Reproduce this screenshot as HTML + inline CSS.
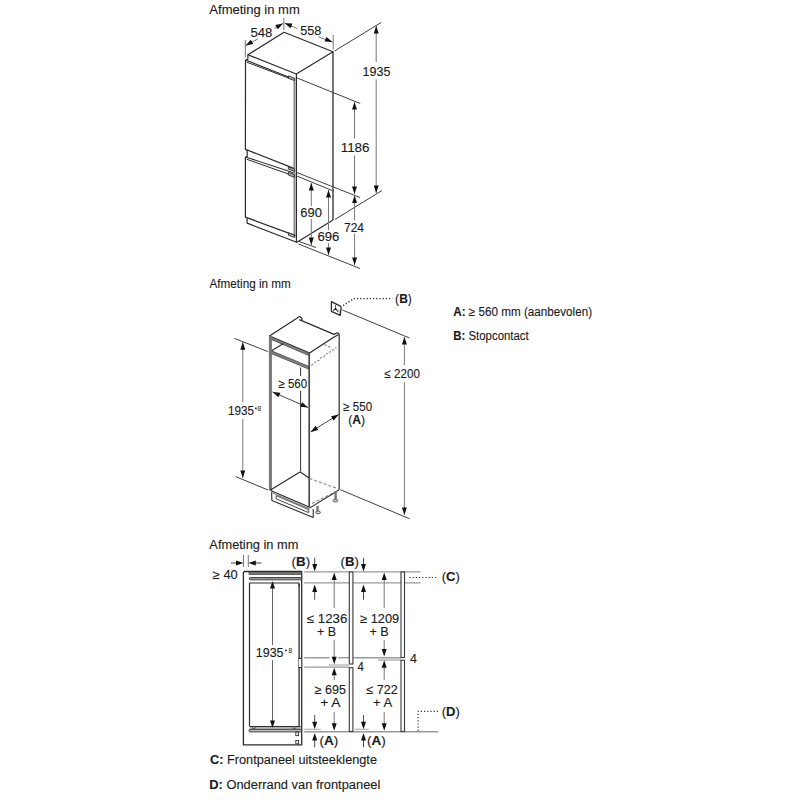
<!DOCTYPE html>
<html><head><meta charset="utf-8"><style>
html,body{margin:0;padding:0;background:#fff;}
svg{display:block;font-family:"Liberation Sans",sans-serif;}
</style></head><body>
<svg width="800" height="800" viewBox="0 0 800 800">
<rect width="800" height="800" fill="#fff"/>
<text id="t0" x="209.37" y="13.5" font-size="13" font-weight="normal" text-anchor="start" fill="#1a1a1a" stroke="#1a1a1a" stroke-width="0.12" textLength="90.42" lengthAdjust="spacingAndGlyphs">Afmeting in mm</text>
<polygon points="247.9,54.8 284,32.3 333,51.7 296.3,74" stroke="#2b2b2b" stroke-width="1.2" fill="none" stroke-linejoin="round" />
<line x1="333" y1="51.7" x2="333" y2="220" stroke="#2b2b2b" stroke-width="1.3" />
<line x1="333" y1="220" x2="296.5" y2="242.5" stroke="#2b2b2b" stroke-width="1.2" />
<line x1="296.4" y1="74" x2="296.4" y2="242.5" stroke="#2b2b2b" stroke-width="1.2" />
<line x1="294.4" y1="79" x2="294.4" y2="236" stroke="#8a8a8a" stroke-width="1.9" />
<polyline points="247.9,54.8 247.9,59.2 245.5,60.3 245.4,149.3 293.8,168.4" stroke="#2b2b2b" stroke-width="1.2" fill="none" stroke-linejoin="round" />
<line x1="245.6" y1="60.1" x2="294.2" y2="79.2" stroke="#2b2b2b" stroke-width="1.1" />
<line x1="246.6" y1="62.1" x2="289" y2="78.2" stroke="#2b2b2b" stroke-width="1.0" />
<polygon points="288.4,75.9 288.4,78.3 294.6,80.6 294.6,78.2" stroke="#2b2b2b" stroke-width="0.9" fill="#aaa" stroke-linejoin="round" />
<polyline points="245.4,149.3 247.2,150.5 247.2,156.3 245.4,157.2 245.4,217.1 295.5,235.6" stroke="#2b2b2b" stroke-width="1.2" fill="none" stroke-linejoin="round" />
<line x1="245.6" y1="157" x2="293.5" y2="172.8" stroke="#2b2b2b" stroke-width="1.1" />
<line x1="246.5" y1="159.2" x2="294" y2="176" stroke="#2b2b2b" stroke-width="1.0" />
<polygon points="288.3,166.8 288.3,169 294.6,171.3 294.6,169.1" stroke="#2b2b2b" stroke-width="0.9" fill="#aaa" stroke-linejoin="round" />
<polygon points="288.3,172.3 288.3,175 294.6,177.4 294.6,174.7" stroke="#2b2b2b" stroke-width="0.9" fill="#aaa" stroke-linejoin="round" />
<polyline points="247.1,218.3 247.1,223.1 296.6,242.3" stroke="#2b2b2b" stroke-width="1.2" fill="none" stroke-linejoin="round" />
<polygon points="288.5,232.8 288.5,235.3 294.6,237.6 294.6,235.1" stroke="#2b2b2b" stroke-width="0.9" fill="#aaa" stroke-linejoin="round" />
<line x1="245.3" y1="40" x2="245.3" y2="57.5" stroke="#787878" stroke-width="1.0" />
<line x1="283.8" y1="18" x2="283.8" y2="30" stroke="#787878" stroke-width="1.0" />
<line x1="245.6" y1="45.6" x2="258" y2="38.8" stroke="#787878" stroke-width="1.0" />
<line x1="274.4" y1="28.4" x2="283" y2="23.4" stroke="#787878" stroke-width="1.0" />
<polygon points="245.60,45.60 250.83,39.67 253.34,44.00" fill="#111"/>
<polygon points="283.00,23.40 277.77,29.33 275.26,25.00" fill="#111"/>
<text id="t1" x="250.5" y="36.5" font-size="12.5" font-weight="normal" text-anchor="start" fill="#1a1a1a" stroke="#1a1a1a" stroke-width="0.12" textLength="21.9" lengthAdjust="spacingAndGlyphs">548</text>
<line x1="333.2" y1="35" x2="333.2" y2="49.5" stroke="#787878" stroke-width="1.0" />
<line x1="284.6" y1="23.2" x2="297.5" y2="28.6" stroke="#787878" stroke-width="1.0" />
<line x1="318.5" y1="36.8" x2="332.5" y2="42" stroke="#787878" stroke-width="1.0" />
<polygon points="284.60,23.20 292.50,23.60 290.68,28.25" fill="#111"/>
<polygon points="332.50,42.00 324.60,41.60 326.42,36.95" fill="#111"/>
<text id="t2" x="300.25" y="34.5" font-size="12.5" font-weight="normal" text-anchor="start" fill="#1a1a1a" stroke="#1a1a1a" stroke-width="0.12" textLength="21.14" lengthAdjust="spacingAndGlyphs">558</text>
<line x1="334.5" y1="51" x2="381.2" y2="22.5" stroke="#404040" stroke-width="1.0" />
<line x1="335" y1="219.4" x2="382" y2="190.5" stroke="#404040" stroke-width="1.0" />
<line x1="376.2" y1="26" x2="376.2" y2="62" stroke="#787878" stroke-width="1.0" />
<line x1="376.2" y1="79.5" x2="376.2" y2="193" stroke="#787878" stroke-width="1.0" />
<polygon points="376.20,26.00 378.70,33.50 373.70,33.50" fill="#111"/>
<polygon points="376.20,193.00 373.70,185.50 378.70,185.50" fill="#111"/>
<text id="t3" x="362.5" y="75.8" font-size="13" font-weight="normal" text-anchor="start" fill="#1a1a1a" stroke="#1a1a1a" stroke-width="0.12" textLength="27.89" lengthAdjust="spacingAndGlyphs">1935</text>
<line x1="297.2" y1="78" x2="360.2" y2="103.5" stroke="#404040" stroke-width="1.0" />
<line x1="297" y1="172.6" x2="360" y2="197.5" stroke="#404040" stroke-width="1.0" />
<line x1="354.5" y1="102" x2="354.5" y2="138.5" stroke="#787878" stroke-width="1.0" />
<line x1="354.5" y1="155.5" x2="354.5" y2="194" stroke="#787878" stroke-width="1.0" />
<polygon points="354.50,102.00 357.00,109.50 352.00,109.50" fill="#111"/>
<polygon points="354.50,194.00 352.00,186.50 357.00,186.50" fill="#111"/>
<text id="t4" x="340.7" y="151.5" font-size="13" font-weight="normal" text-anchor="start" fill="#1a1a1a" stroke="#1a1a1a" stroke-width="0.12" textLength="28.84" lengthAdjust="spacingAndGlyphs">1186</text>
<line x1="297" y1="176.1" x2="333.8" y2="191.2" stroke="#404040" stroke-width="1.0" />
<line x1="299" y1="241.5" x2="316" y2="247.5" stroke="#404040" stroke-width="1.0" />
<line x1="311.3" y1="183" x2="311.3" y2="206" stroke="#787878" stroke-width="1.0" />
<line x1="311.3" y1="219" x2="311.3" y2="245" stroke="#787878" stroke-width="1.0" />
<polygon points="311.30,183.00 313.80,190.50 308.80,190.50" fill="#111"/>
<polygon points="311.30,245.00 308.80,237.50 313.80,237.50" fill="#111"/>
<text id="t5" x="300.25" y="217" font-size="12.5" font-weight="normal" text-anchor="start" fill="#1a1a1a" stroke="#1a1a1a" stroke-width="0.12" textLength="21.63" lengthAdjust="spacingAndGlyphs">690</text>
<line x1="298.5" y1="244" x2="360" y2="268.5" stroke="#404040" stroke-width="1.0" />
<line x1="328.5" y1="190" x2="328.5" y2="230" stroke="#787878" stroke-width="1.0" />
<line x1="328.5" y1="243" x2="328.5" y2="255" stroke="#787878" stroke-width="1.0" />
<polygon points="328.50,190.00 331.00,197.50 326.00,197.50" fill="#111"/>
<polygon points="328.50,255.00 326.00,247.50 331.00,247.50" fill="#111"/>
<text id="t6" x="317.5" y="241.2" font-size="12.5" font-weight="normal" text-anchor="start" fill="#1a1a1a" stroke="#1a1a1a" stroke-width="0.12" textLength="21.9" lengthAdjust="spacingAndGlyphs">696</text>
<line x1="354.6" y1="195.6" x2="354.6" y2="220.5" stroke="#787878" stroke-width="1.0" />
<line x1="354.6" y1="233.5" x2="354.6" y2="265" stroke="#787878" stroke-width="1.0" />
<polygon points="354.60,195.60 357.10,203.10 352.10,203.10" fill="#111"/>
<polygon points="354.60,265.00 352.10,257.50 357.10,257.50" fill="#111"/>
<text id="t7" x="343.95" y="231.5" font-size="12.5" font-weight="normal" text-anchor="start" fill="#1a1a1a" stroke="#1a1a1a" stroke-width="0.12" textLength="20.1" lengthAdjust="spacingAndGlyphs">724</text>
<text id="t8" x="209.5" y="288" font-size="13" font-weight="normal" text-anchor="start" fill="#1a1a1a" stroke="#1a1a1a" stroke-width="0.12" textLength="81.28" lengthAdjust="spacingAndGlyphs">Afmeting in mm</text>
<polygon points="331.4,301.6 340.3,306.2 341.2,307.3 340.2,315.4 331.4,311.3" stroke="#2b2b2b" stroke-width="1.3" fill="none" stroke-linejoin="round" />
<line x1="335.6" y1="305" x2="335.5" y2="308.4" stroke="#555" stroke-width="1.0" />
<polyline points="333.4,310.6 335.5,308.3 338,311.8" stroke="#222" stroke-width="1.1" fill="none" stroke-linejoin="round" />
<line x1="339" y1="309.5" x2="339" y2="313.5" stroke="#999" stroke-width="0.9" />
<polyline points="343.1,305.6 353.8,298.6 392.5,298.6" stroke="#333" stroke-width="1.3" fill="none" stroke-linejoin="round" stroke-dasharray="1.3,1.9"/>
<text id="t9" x="395.12" y="303" font-size="12.5" font-weight="normal" text-anchor="start" fill="#1a1a1a" stroke="#1a1a1a" stroke-width="0.12" textLength="16.68" lengthAdjust="spacingAndGlyphs">(<tspan font-weight='bold'>B</tspan>)</text>
<text id="t10" x="453.25" y="315.5" font-size="12.5" font-weight="normal" text-anchor="start" fill="#1a1a1a" stroke="#1a1a1a" stroke-width="0.12" textLength="138.77" lengthAdjust="spacingAndGlyphs"><tspan font-weight='bold'>A:</tspan> ≥ 560 mm (aanbevolen)</text>
<text id="t11" x="453.25" y="340" font-size="12.5" font-weight="normal" text-anchor="start" fill="#1a1a1a" stroke="#1a1a1a" stroke-width="0.12" textLength="75.52" lengthAdjust="spacingAndGlyphs"><tspan font-weight='bold'>B:</tspan> Stopcontact</text>
<line x1="342.5" y1="310" x2="409.4" y2="338" stroke="#404040" stroke-width="1.0" />
<line x1="340.3" y1="489.7" x2="409.7" y2="518.8" stroke="#404040" stroke-width="1.0" />
<line x1="404.4" y1="337" x2="404.4" y2="365" stroke="#787878" stroke-width="1.0" />
<line x1="404.4" y1="382" x2="404.4" y2="515" stroke="#787878" stroke-width="1.0" />
<polygon points="404.40,336.90 406.90,344.40 401.90,344.40" fill="#111"/>
<polygon points="404.40,515.00 401.90,507.50 406.90,507.50" fill="#111"/>
<text id="t12" x="384.5" y="378" font-size="12.5" font-weight="normal" text-anchor="start" fill="#1a1a1a" stroke="#1a1a1a" stroke-width="0.12" textLength="35.38" lengthAdjust="spacingAndGlyphs">≤ 2200</text>
<polyline points="269.5,336 299.6,316.5 302,318.3 301.8,320.3" stroke="#2b2b2b" stroke-width="1.2" fill="none" stroke-linejoin="round" />
<polyline points="299.3,319.6 334,334.4 337.4,332.7 339.5,334.2" stroke="#2b2b2b" stroke-width="1.2" fill="none" stroke-linejoin="round" />
<polyline points="269.5,336 309.5,353 332.5,338 338.7,334.5" stroke="#2b2b2b" stroke-width="1.3" fill="none" stroke-linejoin="round" />
<polygon points="269.5,336 309.5,353 309.5,355.8 270.5,339.2" stroke="#3a3a3a" stroke-width="0.7" fill="#808080" stroke-linejoin="round" />
<polygon points="271,350.6 309,366.4 309,369.2 271,353.4" stroke="#3a3a3a" stroke-width="0.7" fill="#808080" stroke-linejoin="round" />
<line x1="271.2" y1="351" x2="283.5" y2="343.5" stroke="#2b2b2b" stroke-width="1.1" />
<line x1="270.4" y1="336" x2="270.4" y2="490.5" stroke="#777" stroke-width="3" />
<line x1="309.2" y1="353" x2="309.2" y2="507.5" stroke="#4a4a4a" stroke-width="1.7" />
<line x1="339.2" y1="334.5" x2="339.2" y2="489.5" stroke="#3a3a3a" stroke-width="1.3" />
<line x1="300.6" y1="367.5" x2="300.6" y2="376" stroke="#333" stroke-width="1.0" />
<line x1="300.6" y1="391" x2="300.6" y2="471.5" stroke="#333" stroke-width="1.0" />
<polyline points="311.2,365.2 314.11,363.99 315.82,361.07 319.13,360.43 320.84,357.51 324.15,356.87 325.86,353.95 329.17,353.31 330.88,350.39 334.19,349.75 336.3,347.4" stroke="#8a8a8a" stroke-width="1.15" fill="none" stroke-linejoin="round" stroke-dasharray="2.4,1.6"/>
<line x1="324.4" y1="344.6" x2="331.5" y2="348" stroke="#8a8a8a" stroke-width="1.15" stroke-dasharray="2.4,1.6"/>
<polyline points="270.5,490 300,472 301,472.5 309,478" stroke="#2b2b2b" stroke-width="1.2" fill="none" stroke-linejoin="round" />
<line x1="309.5" y1="478.5" x2="339" y2="489" stroke="#888" stroke-width="1.1" stroke-dasharray="3,2"/>
<line x1="312" y1="503.5" x2="337" y2="491" stroke="#888" stroke-width="1.1" stroke-dasharray="3,2"/>
<line x1="309.6" y1="508" x2="339.3" y2="489.8" stroke="#3a3a3a" stroke-width="1.1" />
<line x1="270.5" y1="490.5" x2="309.2" y2="507" stroke="#2b2b2b" stroke-width="1.3" />
<line x1="271" y1="492.3" x2="309.2" y2="508.6" stroke="#888" stroke-width="1.0" />
<polyline points="271.6,492.5 271.9,500.5 313.2,517.5 313.2,509" stroke="#2b2b2b" stroke-width="1.1" fill="none" stroke-linejoin="round" />
<polyline points="276.2,495.5 276.2,498.8 308.5,512.6" stroke="#2b2b2b" stroke-width="0.9" fill="none" stroke-linejoin="round" />
<polyline points="276.5,495.5 308.5,509.3 308.5,512.6" stroke="#777" stroke-width="1.6" fill="none" stroke-linejoin="round" />
<line x1="317.5" y1="506" x2="317.5" y2="511.5" stroke="#777" stroke-width="2.4" />
<ellipse cx="318" cy="512.4" rx="2.5" ry="1.4" fill="#ccc" stroke="#555" stroke-width="0.9"/>
<line x1="335.6" y1="491" x2="335.6" y2="499.5" stroke="#777" stroke-width="2.4" />
<ellipse cx="335.4" cy="500.6" rx="2.5" ry="1.4" fill="#ccc" stroke="#555" stroke-width="0.9"/>
<line x1="272.5" y1="391.9" x2="308" y2="407.5" stroke="#333" stroke-width="0.9" />
<polygon points="272.50,391.90 280.37,392.63 278.36,397.21" fill="#111"/>
<polygon points="308.00,407.50 300.13,406.77 302.14,402.19" fill="#111"/>
<text id="t13" x="278.38" y="387.5" font-size="12.5" font-weight="normal" text-anchor="start" fill="#1a1a1a" stroke="#1a1a1a" stroke-width="0.12" textLength="28.75" lengthAdjust="spacingAndGlyphs">≥ 560</text>
<line x1="310.6" y1="431.9" x2="338.75" y2="414.4" stroke="#333" stroke-width="0.9" />
<polygon points="310.60,431.90 315.66,425.82 318.29,430.07" fill="#111"/>
<polygon points="338.75,414.40 333.69,420.48 331.06,416.23" fill="#111"/>
<text id="t14" x="343.25" y="411" font-size="12.5" font-weight="normal" text-anchor="start" fill="#1a1a1a" stroke="#1a1a1a" stroke-width="0.12" textLength="28.87" lengthAdjust="spacingAndGlyphs">≥ 550</text>
<text id="t15" x="348.25" y="423.5" font-size="12.5" font-weight="normal" text-anchor="start" fill="#1a1a1a" stroke="#1a1a1a" stroke-width="0.12" textLength="16.84" lengthAdjust="spacingAndGlyphs">(<tspan font-weight='bold'>A</tspan>)</text>
<line x1="234.4" y1="338.4" x2="268.1" y2="351.6" stroke="#404040" stroke-width="1.0" />
<line x1="235.5" y1="476.5" x2="268" y2="490" stroke="#404040" stroke-width="1.0" />
<line x1="242.8" y1="342.2" x2="242.8" y2="402" stroke="#787878" stroke-width="1.0" />
<line x1="242.8" y1="419" x2="242.8" y2="478" stroke="#787878" stroke-width="1.0" />
<polygon points="242.80,342.20 245.30,349.70 240.30,349.70" fill="#111"/>
<polygon points="242.80,478.00 240.30,470.50 245.30,470.50" fill="#111"/>
<text id="t16" x="227.97" y="415.4" font-size="12.5" font-weight="normal" text-anchor="start" fill="#1a1a1a" stroke="#1a1a1a" stroke-width="0.12" textLength="26.01" lengthAdjust="spacingAndGlyphs">1935</text>
<text id="t17" x="257.5" y="410.7" font-size="6.6" font-weight="normal" text-anchor="start" fill="#444" stroke="#444" stroke-width="0.12">8</text>
<line x1="254.8" y1="408.4" x2="257" y2="408.4" stroke="#333" stroke-width="0.9" />
<line x1="255.9" y1="407.3" x2="255.9" y2="409.5" stroke="#333" stroke-width="0.9" />
<text id="t18" x="209.37" y="548.7" font-size="13" font-weight="normal" text-anchor="start" fill="#1a1a1a" stroke="#1a1a1a" stroke-width="0.12" textLength="89.01" lengthAdjust="spacingAndGlyphs">Afmeting in mm</text>
<polygon points="243.4,744.8 243.4,572.5 244.5,571.5 301.7,571.5 301.7,744.8" stroke="#2b2b2b" stroke-width="1.3" fill="none" stroke-linejoin="round" />
<rect x="249" y="572" width="52.5" height="2.6" fill="#7a7a7a" stroke="#333" stroke-width="0.6"/>
<rect x="249.3" y="577.5" width="52.2" height="2.3" rx="1" fill="#999" stroke="#333" stroke-width="0.9"/>
<polyline points="249.5,726.3 249.5,583 299.1,583 299.1,587" stroke="#2b2b2b" stroke-width="1.2" fill="none" stroke-linejoin="round" />
<line x1="299.1" y1="584" x2="299.1" y2="726.3" stroke="#2b2b2b" stroke-width="1.3" />
<rect x="298.6" y="658.3" width="2.6" height="9.2" fill="#fff" stroke="#666" stroke-width="0.6"/>
<line x1="298.5" y1="658.3" x2="301.3" y2="658.3" stroke="#2b2b2b" stroke-width="1.0" />
<line x1="298.5" y1="667.5" x2="301.3" y2="667.5" stroke="#2b2b2b" stroke-width="1.0" />
<line x1="249.5" y1="726.5" x2="300.6" y2="726.5" stroke="#2b2b2b" stroke-width="1.0" />
<line x1="249.5" y1="728" x2="300.6" y2="728" stroke="#999" stroke-width="1.4" />
<rect x="252.3" y="726.3" width="2.8" height="2" fill="none" stroke="#444" stroke-width="0.7"/>
<rect x="293" y="726.3" width="2.8" height="2" fill="none" stroke="#444" stroke-width="0.7"/>
<rect x="249" y="729.4" width="52.7" height="2.5" rx="1" fill="#bbb" stroke="#333" stroke-width="0.9"/>
<rect x="295.8" y="732" width="2.8" height="3.6" fill="none" stroke="#333" stroke-width="0.9"/>
<rect x="295.8" y="740.4" width="2.8" height="3.4" fill="none" stroke="#333" stroke-width="0.9"/>
<line x1="243.5" y1="555" x2="243.5" y2="567" stroke="#787878" stroke-width="1.0" />
<line x1="248.3" y1="555" x2="248.3" y2="567" stroke="#787878" stroke-width="1.0" />
<line x1="231" y1="563" x2="236.5" y2="563" stroke="#333" stroke-width="0.9" />
<line x1="255" y1="563" x2="261.5" y2="563" stroke="#333" stroke-width="0.9" />
<polygon points="243.50,563.00 236.00,565.50 236.00,560.50" fill="#111"/>
<polygon points="248.30,563.00 255.80,560.50 255.80,565.50" fill="#111"/>
<text id="t19" x="212.87" y="578.7" font-size="12.5" font-weight="normal" text-anchor="start" fill="#1a1a1a" stroke="#1a1a1a" stroke-width="0.12" textLength="24.92" lengthAdjust="spacingAndGlyphs">≥ 40</text>
<line x1="272.5" y1="588" x2="272.5" y2="645" stroke="#555" stroke-width="0.9" />
<line x1="272.5" y1="660" x2="272.5" y2="721" stroke="#555" stroke-width="0.9" />
<polygon points="272.50,581.00 275.00,588.50 270.00,588.50" fill="#111"/>
<polygon points="272.50,728.00 270.00,720.50 275.00,720.50" fill="#111"/>
<text id="t20" x="255.8" y="656.8" font-size="12.5" font-weight="normal" text-anchor="start" fill="#1a1a1a" stroke="#1a1a1a" stroke-width="0.12" textLength="27.77" lengthAdjust="spacingAndGlyphs">1935</text>
<text id="t21" x="288.5" y="652.7" font-size="6.6" font-weight="normal" text-anchor="start" fill="#444" stroke="#444" stroke-width="0.12">8</text>
<line x1="284.9" y1="650.4" x2="287.1" y2="650.4" stroke="#333" stroke-width="0.9" />
<line x1="286" y1="649.3" x2="286" y2="651.5" stroke="#333" stroke-width="0.9" />
<line x1="304.2" y1="571.9" x2="420.6" y2="571.9" stroke="#999" stroke-width="1.4" />
<line x1="304.2" y1="582.9" x2="420.6" y2="582.9" stroke="#999" stroke-width="1.4" />
<line x1="304.2" y1="657.7" x2="329.6" y2="657.7" stroke="#999" stroke-width="1.4" />
<line x1="338.3" y1="657.7" x2="349.2" y2="657.7" stroke="#999" stroke-width="1.4" />
<line x1="353.2" y1="657.7" x2="401" y2="657.7" stroke="#999" stroke-width="1.4" />
<line x1="378.2" y1="660" x2="401" y2="660" stroke="#a8a8a8" stroke-width="1.3" />
<line x1="304.2" y1="667.1" x2="349.2" y2="667.1" stroke="#999" stroke-width="1.4" />
<line x1="328.9" y1="665" x2="349.3" y2="665" stroke="#a8a8a8" stroke-width="1.1" />
<line x1="304.2" y1="731.8" x2="438" y2="731.8" stroke="#999" stroke-width="1.4" />
<line x1="304.2" y1="729.3" x2="320.7" y2="729.3" stroke="#aaa" stroke-width="1.1" />
<line x1="354.5" y1="729.3" x2="368.7" y2="729.3" stroke="#aaa" stroke-width="1.1" />
<rect x="349.3" y="572" width="3.6" height="92" fill="#fff" stroke="#383838" stroke-width="1.1"/>
<rect x="349.3" y="667.7" width="3.6" height="63.8" fill="#fff" stroke="#383838" stroke-width="1.1"/>
<rect x="401" y="572" width="3.5" height="85.5" fill="#fff" stroke="#383838" stroke-width="1.1"/>
<rect x="401" y="660.2" width="3.5" height="71.3" fill="#fff" stroke="#383838" stroke-width="1.1"/>
<line x1="314.7" y1="557.7" x2="314.7" y2="566" stroke="#333" stroke-width="0.9" />
<polygon points="314.70,571.60 312.20,564.10 317.20,564.10" fill="#111"/>
<line x1="314.7" y1="591" x2="314.7" y2="599.7" stroke="#333" stroke-width="0.9" />
<polygon points="314.70,584.60 317.20,592.10 312.20,592.10" fill="#111"/>
<line x1="363.5" y1="557.7" x2="363.5" y2="566" stroke="#333" stroke-width="0.9" />
<polygon points="363.50,571.60 361.00,564.10 366.00,564.10" fill="#111"/>
<line x1="363.5" y1="591" x2="363.5" y2="599.7" stroke="#333" stroke-width="0.9" />
<polygon points="363.50,584.60 366.00,592.10 361.00,592.10" fill="#111"/>
<text id="t22" x="291.55" y="566" font-size="12.5" font-weight="normal" text-anchor="start" fill="#1a1a1a" stroke="#1a1a1a" stroke-width="0.12" textLength="18.55" lengthAdjust="spacingAndGlyphs">(<tspan font-weight='bold'>B</tspan>)</text>
<text id="t23" x="340.55" y="566" font-size="12.5" font-weight="normal" text-anchor="start" fill="#1a1a1a" stroke="#1a1a1a" stroke-width="0.12" textLength="18.34" lengthAdjust="spacingAndGlyphs">(<tspan font-weight='bold'>B</tspan>)</text>
<line x1="334.2" y1="579" x2="334.2" y2="608" stroke="#787878" stroke-width="1.0" />
<line x1="334.2" y1="640" x2="334.2" y2="657" stroke="#787878" stroke-width="1.0" />
<polygon points="334.20,572.60 336.70,580.10 331.70,580.10" fill="#111"/>
<polygon points="334.20,664.20 331.70,656.70 336.70,656.70" fill="#111"/>
<text id="t24" x="306.95" y="623" font-size="12.5" font-weight="normal" text-anchor="start" fill="#1a1a1a" stroke="#1a1a1a" stroke-width="0.12" textLength="40.36" lengthAdjust="spacingAndGlyphs">≤ 1236</text>
<text id="t25" x="316.9" y="635.7" font-size="12.5" font-weight="normal" text-anchor="start" fill="#1a1a1a" stroke="#1a1a1a" stroke-width="0.12" textLength="19.17" lengthAdjust="spacingAndGlyphs">+ B</text>
<line x1="384.2" y1="579" x2="384.2" y2="608" stroke="#787878" stroke-width="1.0" />
<line x1="384.2" y1="640" x2="384.2" y2="650" stroke="#787878" stroke-width="1.0" />
<polygon points="384.20,572.60 386.70,580.10 381.70,580.10" fill="#111"/>
<polygon points="384.20,656.60 381.70,649.10 386.70,649.10" fill="#111"/>
<text id="t26" x="360.15" y="623" font-size="12.5" font-weight="normal" text-anchor="start" fill="#1a1a1a" stroke="#1a1a1a" stroke-width="0.12" textLength="39.0" lengthAdjust="spacingAndGlyphs">≥ 1209</text>
<text id="t27" x="369.45" y="635.7" font-size="12.5" font-weight="normal" text-anchor="start" fill="#1a1a1a" stroke="#1a1a1a" stroke-width="0.12" textLength="19.41" lengthAdjust="spacingAndGlyphs">+ B</text>
<line x1="334.2" y1="674" x2="334.2" y2="680" stroke="#787878" stroke-width="1.0" />
<line x1="334.2" y1="712" x2="334.2" y2="724" stroke="#787878" stroke-width="1.0" />
<polygon points="334.20,667.70 336.70,675.20 331.70,675.20" fill="#111"/>
<polygon points="334.20,730.70 331.70,723.20 336.70,723.20" fill="#111"/>
<text id="t28" x="314.65" y="694" font-size="12.5" font-weight="normal" text-anchor="start" fill="#1a1a1a" stroke="#1a1a1a" stroke-width="0.12" textLength="31.25" lengthAdjust="spacingAndGlyphs">≥ 695</text>
<text id="t29" x="320.15" y="706.7" font-size="12.5" font-weight="normal" text-anchor="start" fill="#1a1a1a" stroke="#1a1a1a" stroke-width="0.12" textLength="20.45" lengthAdjust="spacingAndGlyphs">+ A</text>
<text id="t30" x="357.45" y="670.7" font-size="12.5" font-weight="normal" text-anchor="start" fill="#1a1a1a" stroke="#1a1a1a" stroke-width="0.12" textLength="6.32" lengthAdjust="spacingAndGlyphs">4</text>
<line x1="384.2" y1="666.5" x2="384.2" y2="680" stroke="#787878" stroke-width="1.0" />
<line x1="384.2" y1="712" x2="384.2" y2="724" stroke="#787878" stroke-width="1.0" />
<polygon points="384.20,660.20 386.70,667.70 381.70,667.70" fill="#111"/>
<polygon points="384.20,730.70 381.70,723.20 386.70,723.20" fill="#111"/>
<text id="t31" x="366.45" y="694" font-size="12.5" font-weight="normal" text-anchor="start" fill="#1a1a1a" stroke="#1a1a1a" stroke-width="0.12" textLength="31.25" lengthAdjust="spacingAndGlyphs">≤ 722</text>
<text id="t32" x="372.9" y="706.7" font-size="12.5" font-weight="normal" text-anchor="start" fill="#1a1a1a" stroke="#1a1a1a" stroke-width="0.12" textLength="19.26" lengthAdjust="spacingAndGlyphs">+ A</text>
<text id="t33" x="409.95" y="662.5" font-size="12.5" font-weight="normal" text-anchor="start" fill="#1a1a1a" stroke="#1a1a1a" stroke-width="0.12" textLength="6.91" lengthAdjust="spacingAndGlyphs">4</text>
<line x1="314.7" y1="715" x2="314.7" y2="722.5" stroke="#333" stroke-width="0.9" />
<polygon points="314.70,729.20 312.20,721.70 317.20,721.70" fill="#111"/>
<line x1="314.7" y1="739.5" x2="314.7" y2="747.2" stroke="#333" stroke-width="0.9" />
<polygon points="314.70,733.00 317.20,740.50 312.20,740.50" fill="#111"/>
<line x1="363.5" y1="715" x2="363.5" y2="722.5" stroke="#333" stroke-width="0.9" />
<polygon points="363.50,729.20 361.00,721.70 366.00,721.70" fill="#111"/>
<line x1="363.5" y1="739.5" x2="363.5" y2="747.2" stroke="#333" stroke-width="0.9" />
<polygon points="363.50,733.00 366.00,740.50 361.00,740.50" fill="#111"/>
<text id="t34" x="319.6" y="745" font-size="12.5" font-weight="normal" text-anchor="start" fill="#1a1a1a" stroke="#1a1a1a" stroke-width="0.12" textLength="18.7" lengthAdjust="spacingAndGlyphs">(<tspan font-weight='bold'>A</tspan>)</text>
<text id="t35" x="367.1" y="745" font-size="12.5" font-weight="normal" text-anchor="start" fill="#1a1a1a" stroke="#1a1a1a" stroke-width="0.12" textLength="18.71" lengthAdjust="spacingAndGlyphs">(<tspan font-weight='bold'>A</tspan>)</text>
<line x1="409.4" y1="577.5" x2="436.3" y2="577.5" stroke="#333" stroke-width="1.2" stroke-dasharray="1.2,2"/>
<text id="t36" x="441.75" y="580.8" font-size="12.5" font-weight="normal" text-anchor="start" fill="#1a1a1a" stroke="#1a1a1a" stroke-width="0.12" textLength="18.11" lengthAdjust="spacingAndGlyphs">(<tspan font-weight='bold'>C</tspan>)</text>
<polyline points="418.1,731 418.1,711.3 438.8,711.3" stroke="#333" stroke-width="1.2" fill="none" stroke-linejoin="round" stroke-dasharray="1.2,2"/>
<text id="t37" x="441.75" y="716.2" font-size="12.5" font-weight="normal" text-anchor="start" fill="#1a1a1a" stroke="#1a1a1a" stroke-width="0.12" textLength="18.11" lengthAdjust="spacingAndGlyphs">(<tspan font-weight='bold'>D</tspan>)</text>
<text id="t38" x="210.0" y="764" font-size="12.5" font-weight="normal" text-anchor="start" fill="#1a1a1a" stroke="#1a1a1a" stroke-width="0.12" textLength="167.0" lengthAdjust="spacingAndGlyphs"><tspan font-weight='bold'>C:</tspan> Frontpaneel uitsteeklengte</text>
<text id="t39" x="209.25" y="789" font-size="12.5" font-weight="normal" text-anchor="start" fill="#1a1a1a" stroke="#1a1a1a" stroke-width="0.12" textLength="171.13" lengthAdjust="spacingAndGlyphs"><tspan font-weight='bold'>D:</tspan> Onderrand van frontpaneel</text>
</svg></body></html>
